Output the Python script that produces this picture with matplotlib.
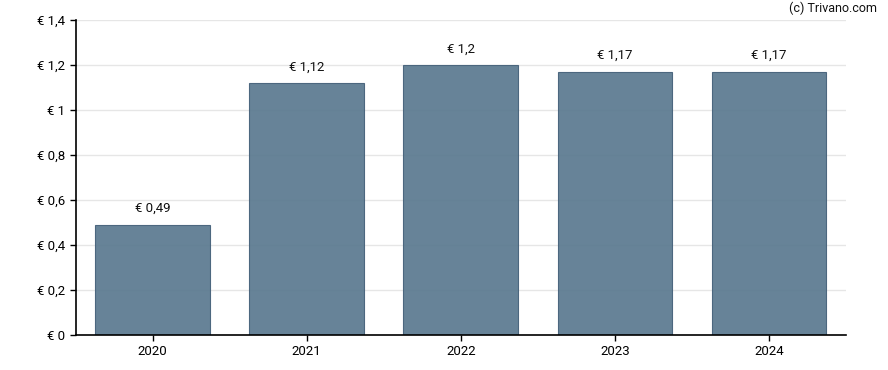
import matplotlib.pyplot as plt
from matplotlib.ticker import FuncFormatter

plt.rcParams['font.family'] = ['Roboto', 'DejaVu Sans']

# ====== DATOS ======
years = ['2020', '2021', '2022', '2023', '2024']
dividends = [0.49, 1.12, 1.2, 1.17, 1.17]
bar_labels = ['€ 0,49', '€ 1,12', '€ 1,2', '€ 1,17', '€ 1,17']
yticks = [0, 0.2, 0.4, 0.6, 0.8, 1.0, 1.2, 1.4]

fig = plt.figure(figsize=(8.88, 3.70), dpi=100)
ax = fig.add_axes([75.5 / 888, 35 / 370, 770.5 / 888, 315 / 370])

x = range(len(years))
ax.bar(x, dividends, width=0.744, color='#5b7a90', alpha=0.93,
       edgecolor='#44607a', linewidth=0.8, zorder=2)

for i, (v, lab) in enumerate(zip(dividends, bar_labels)):
    ax.annotate(lab, (i, v), xytext=(0, 7), textcoords='offset points',
                ha='center', va='bottom', fontsize=9.5, color='#111111')

ax.set_xlim(-0.5, len(years) - 0.5)
ax.set_ylim(0, 1.4)
ax.set_xticks(list(x))
ax.set_xticklabels(years)
ax.set_yticks(yticks)
ax.yaxis.set_major_formatter(FuncFormatter(
    lambda v, p: '€ ' + ('%g' % round(v, 1)).replace('.', ',')))

ax.grid(axis='y', color='#e6e6e6', linewidth=1, zorder=0)
ax.set_axisbelow(True)
for s in ['top', 'right']:
    ax.spines[s].set_visible(False)
for s in ['left', 'bottom']:
    ax.spines[s].set_linewidth(1.2)
    ax.spines[s].set_color('black')
ax.tick_params(axis='both', length=4, width=1, labelsize=9.5, colors='black')

fig.text(877 / 888, 1 - 8 / 370, '(c) Trivano.com', ha='right', va='center',
         fontsize=9, color='#111111')

fig.savefig('out.png', dpi=100)
